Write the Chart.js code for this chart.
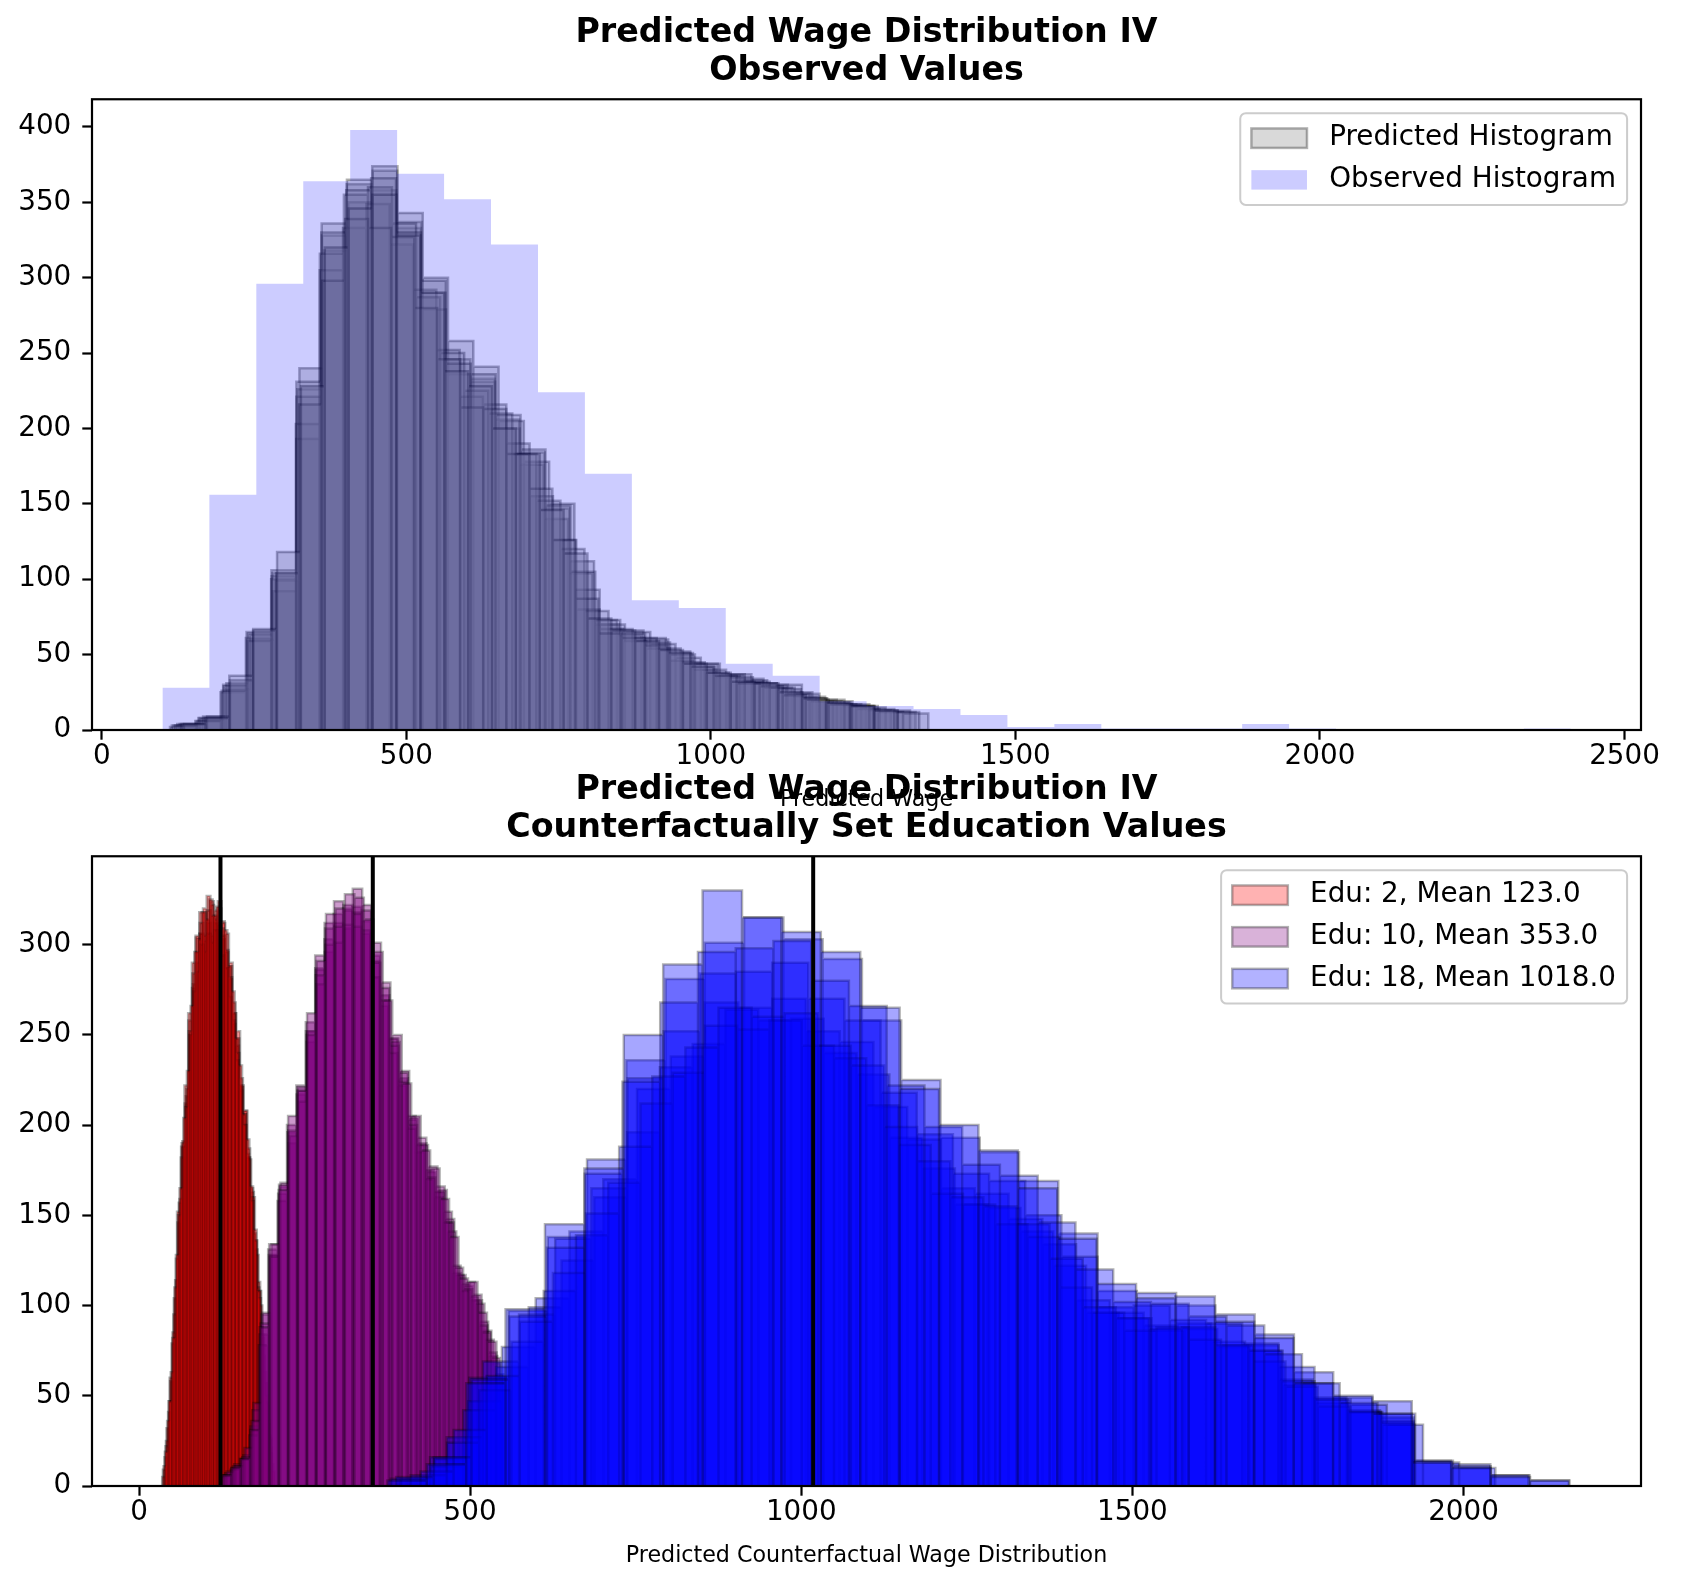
<!DOCTYPE html>
<html>
<head>
<meta charset="utf-8">
<script src="https://cdn.jsdelivr.net/npm/chart.js@4.4.1/dist/chart.umd.min.js"></script>
<style>
    html, body { margin: 0; padding: 0; background: #fff; }
    #figure { position: relative; width: 1685px; height: 1589px; }
    #figure canvas { position: absolute; left: 0; }
    #topChart { top: 0; }
    #bottomChart { top: 757px; }
</style>
</head>
<body>
<div id="figure">
    <canvas id="topChart" width="1685" height="830"></canvas>
    <canvas id="bottomChart" width="1685" height="832"></canvas>
</div>
<script>
// 坐标轴刻度
const topXTicks = [0, 500, 1000, 1500, 2000, 2500];
const topYTicks = [0, 50, 100, 150, 200, 250, 300, 350, 400];
const bottomXTicks = [0, 500, 1000, 1500, 2000];
const bottomYTicks = [0, 50, 100, 150, 200, 250, 300];

// 观测值直方图 (30 bins)
const observedStart = 99.6;
const observedWidth = 77.07;
const observedCounts = [28, 156, 296, 364, 398, 369, 352, 322, 224, 170, 86, 81, 44, 36, 19,
    16, 14, 10, 2, 4, 1, 1, 1, 4, 1, 0, 0, 0, 0, 1];

// 预测值直方图 (多次抽样叠加)
const predictedStarts = [118, 124, 112, 128, 121, 115, 135, 131];
const predictedWidths = [40.6, 40.1, 41.5, 38.3, 39.5, 40.9, 37.8, 39.2];
const predicted1 = [3, 8, 30, 64, 104, 226, 328, 362, 358, 333, 290, 246, 231, 200, 184, 147, 112, 70, 66, 60, 51, 44, 36, 33, 28, 22, 19, 16, 13, 12];
const predicted2 = [4, 7, 27, 60, 99, 240, 318, 350, 371, 337, 279, 236, 233, 206, 176, 140, 104, 73, 63, 61, 52, 42, 35, 34, 30, 25, 20, 17, 15, 13];
const predicted3 = [2, 6, 25, 61, 100, 221, 336, 365, 374, 343, 300, 258, 241, 205, 178, 150, 93, 70, 65, 57, 48, 40, 37, 31, 30, 21, 19, 16, 12, 11];
const predicted4 = [4, 9, 31, 63, 92, 193, 305, 333, 349, 322, 292, 252, 221, 216, 190, 155, 126, 80, 67, 59, 54, 46, 40, 36, 32, 28, 24, 19, 17, 14];
const predicted5 = [3, 8, 29, 59, 102, 203, 316, 355, 360, 336, 287, 250, 225, 210, 183, 152, 120, 79, 67, 61, 54, 45, 38, 35, 31, 27, 22, 18, 16, 13];
const predicted6 = [3, 6, 26, 65, 106, 231, 330, 358, 366, 330, 298, 243, 236, 209, 186, 149, 105, 73, 64, 58, 50, 44, 37, 32, 28, 24, 20, 17, 14, 12];
const predicted7 = [4, 9, 33, 66, 104, 216, 298, 339, 333, 327, 280, 246, 214, 213, 183, 160, 126, 87, 64, 61, 56, 51, 42, 36, 31, 29, 23, 20, 17, 16];
const predicted8 = [4, 8, 36, 67, 118, 228, 320, 346, 355, 328, 290, 238, 228, 200, 183, 146, 117, 74, 66, 59, 53, 44, 38, 32, 31, 25, 21, 18, 16, 13];

// 反事实教育水平
const eduLevels = [2, 10, 18];
const eduMeans = [123, 353, 1018];

const redStarts = [36.0, 38.5, 35.0, 40.0, 37.0, 39.0];
const redWidths = [5.50, 5.35, 5.60, 5.25, 5.45, 5.55];
const red1 = [9, 32, 58, 104, 146, 188, 212, 258, 276, 304, 306, 318, 314, 324, 316, 311, 313, 296, 288, 262, 248, 221, 208, 182, 163, 131, 108, 72, 44, 18];
const red2 = [16, 41, 79, 114, 157, 191, 216, 250, 278, 290, 306, 302, 312, 305, 312, 301, 303, 287, 281, 256, 244, 219, 206, 182, 165, 136, 113, 82, 57, 28];
const red3 = [5, 25, 60, 95, 152, 182, 222, 262, 290, 305, 318, 320, 327, 322, 319, 324, 312, 306, 290, 262, 252, 222, 208, 181, 160, 128, 100, 63, 34, 12];
const red4 = [22, 47, 85, 126, 159, 188, 220, 250, 274, 285, 300, 296, 306, 301, 308, 297, 294, 287, 271, 258, 236, 222, 200, 184, 160, 140, 110, 88, 57, 36];
const red5 = [11, 36, 63, 110, 150, 190, 210, 252, 284, 296, 312, 305, 319, 316, 314, 320, 305, 297, 282, 268, 240, 226, 200, 187, 158, 136, 104, 78, 46, 21];
const red6 = [19, 47, 82, 128, 165, 204, 230, 266, 296, 303, 318, 314, 325, 316, 321, 309, 308, 288, 274, 248, 233, 206, 192, 166, 142, 108, 84, 50, 26, 8];

const purpleStarts = [126, 130, 124, 132, 128, 125];
const purpleWidths = [14.0, 13.7, 14.2, 13.6, 13.9, 14.3];
const purple1 = [6, 10, 15, 33, 84, 128, 162, 196, 217, 252, 287, 303, 317, 320, 321, 313, 294, 272, 248, 226, 203, 190, 174, 163, 148, 117, 111, 103, 86, 68];
const purple2 = [7, 12, 17, 42, 95, 128, 166, 190, 219, 246, 286, 296, 312, 309, 318, 306, 291, 266, 248, 222, 205, 185, 175, 160, 152, 118, 112, 103, 91, 72];
const purple3 = [5, 9, 15, 28, 78, 131, 158, 200, 222, 257, 294, 312, 324, 319, 331, 322, 301, 279, 246, 230, 204, 189, 177, 164, 141, 117, 113, 101, 81, 62];
const purple4 = [8, 11, 21, 46, 96, 134, 168, 194, 213, 252, 278, 300, 301, 311, 310, 308, 282, 269, 240, 224, 198, 189, 170, 163, 146, 122, 108, 105, 89, 74];
const purple5 = [6, 11, 16, 36, 90, 127, 167, 197, 221, 250, 283, 309, 310, 322, 317, 319, 290, 276, 244, 229, 200, 193, 171, 166, 146, 121, 109, 106, 85, 71];
const purple6 = [6, 10, 15, 31, 88, 134, 164, 205, 219, 262, 291, 317, 320, 328, 326, 314, 296, 269, 250, 223, 205, 186, 176, 159, 138, 115, 113, 96, 80, 60];

const blueStarts = [380, 395, 440, 410, 465, 425, 388, 375];
const blueWidths = [59.3, 51.0, 49.5, 54.6, 48.7, 50.0, 57.0, 59.5];
const blue1 = [4, 16, 60, 97, 138, 181, 236, 281, 301, 315, 303, 292, 258, 225, 193, 185, 169, 140, 108, 107, 100, 95, 84, 63, 49, 47, 14, 12, 6, 3];
const blue2 = [4, 15, 47, 77, 104, 141, 170, 220, 238, 268, 265, 270, 252, 246, 210, 192, 165, 162, 148, 134, 103, 96, 89, 90, 80, 78, 59, 49, 42, 38];
const blue3 = [11, 42, 66, 99, 125, 160, 196, 232, 245, 264, 258, 259, 240, 228, 193, 176, 156, 154, 141, 122, 96, 93, 86, 87, 77, 75, 56, 46, 41, 36];
const blue4 = [6, 27, 69, 95, 137, 165, 226, 252, 284, 285, 290, 270, 258, 218, 195, 173, 169, 150, 127, 99, 100, 92, 90, 79, 66, 48, 45, 34, 13, 10];
const blue5 = [24, 53, 80, 108, 139, 168, 212, 229, 255, 253, 258, 244, 237, 211, 189, 162, 156, 145, 138, 110, 96, 86, 88, 81, 78, 69, 55, 44, 41, 34];
const blue6 = [8, 31, 61, 91, 118, 151, 188, 227, 243, 265, 260, 262, 244, 233, 199, 180, 160, 155, 145, 126, 99, 93, 87, 88, 78, 75, 58, 48, 41, 35];
const blue7 = [5, 16, 59, 94, 132, 173, 224, 268, 296, 298, 302, 280, 266, 222, 199, 178, 172, 146, 120, 102, 101, 94, 89, 73, 57, 46, 40, 14, 11, 6];
const blue8 = [3, 12, 57, 98, 145, 176, 250, 289, 330, 315, 307, 296, 265, 220, 200, 186, 165, 137, 112, 104, 105, 91, 82, 57, 50, 40, 13, 10, 5, 3];

// 坐标范围
const topXRange = [-16, 2527];
const topYMax = 418.4;
const bottomXRange = [-71, 2268];
const bottomYMax = 349;

const FONT = '"DejaVu Sans", sans-serif';
Chart.defaults.font.family = FONT;
Chart.defaults.color = '#000';

// 直方图转换为阶梯线的点
function histPoints(start, width, counts) {
    const pts = [];
    counts.forEach((c, i) => {
        const left = start + i * width;
        const right = left + width;
        pts.push({x: left, y: 0}, {x: left, y: c}, {x: right, y: c}, {x: right, y: 0});
    });
    return pts;
}

function histDataset(label, pts, fillColor, edgeColor, edgeWidth, order) {
    return {
        type: 'line',
        label: label,
        data: pts,
        backgroundColor: fillColor,
        borderColor: edgeColor,
        borderWidth: edgeWidth,
        borderJoinStyle: 'miter',
        fill: 'origin',
        pointRadius: 0,
        tension: 0,
        order: order
    };
}

// 坐标轴边框
const axesFrame = {
    id: 'axesFrame',
    afterDatasetsDraw(chart) {
        const {ctx, chartArea: a} = chart;
        ctx.save();
        ctx.strokeStyle = '#000';
        ctx.lineWidth = 2.2;
        ctx.strokeRect(a.left, a.top, a.right - a.left, a.bottom - a.top);
        ctx.restore();
    }
};

// matplotlib 风格图例
const boxLegend = {
    id: 'boxLegend',
    afterDraw(chart, args, opts) {
        const {ctx, chartArea: a} = chart;
        const fs = opts.fontSize;
        const items = opts.items;
        ctx.save();
        ctx.font = fs + 'px ' + FONT;
        const textW = Math.max(...items.map(it => ctx.measureText(it.text).width));
        const pad = 0.4 * fs, handleW = 2 * fs, handleH = 0.7 * fs, gap = 0.8 * fs;
        const boxW = 2 * pad + handleW + gap + textW;
        const boxH = 2 * pad + items.length * fs + (items.length - 1) * 0.5 * fs;
        const left = a.right - 0.5 * fs - boxW;
        const top = a.top + 0.5 * fs;

        ctx.beginPath();
        ctx.roundRect(left, top, boxW, boxH, 0.2 * fs);
        ctx.fillStyle = 'rgba(255,255,255,0.8)';
        ctx.fill();
        ctx.lineWidth = 2;
        ctx.strokeStyle = '#cccccc';
        ctx.stroke();

        items.forEach((it, i) => {
            const cy = top + pad + fs / 2 + i * 1.5 * fs;
            const hx = left + pad;
            ctx.fillStyle = it.fill;
            ctx.fillRect(hx, cy - handleH / 2, handleW, handleH);
            if (it.edge) {
                ctx.lineWidth = 2.5;
                ctx.strokeStyle = it.edge;
                ctx.strokeRect(hx, cy - handleH / 2, handleW, handleH);
            }
            ctx.fillStyle = '#000';
            ctx.textAlign = 'left';
            ctx.textBaseline = 'middle';
            ctx.fillText(it.text, hx + handleW + gap, cy);
        });
        ctx.restore();
    }
};

function tickGrid() {
    return {display: true, drawOnChartArea: false, drawTicks: true, tickLength: 9.7, tickWidth: 2.2, tickColor: '#000'};
}

function makeScales(xRange, yMax, xTicks, yTicks, xTitle, xAxisHeight, xTitlePad) {
    return {
        x: {
            type: 'linear',
            min: xRange[0],
            max: xRange[1],
            afterBuildTicks: s => { s.ticks = xTicks.map(v => ({value: v})); },
            afterFit: s => { s.height = xAxisHeight; },
            grid: tickGrid(),
            border: {display: false},
            ticks: {autoSkip: false, maxRotation: 0, padding: 0, color: '#000',
                font: {size: 27.8, lineHeight: 1.2}, callback: v => String(v)},
            title: {display: true, text: xTitle, color: '#000',
                font: {size: 22.2, lineHeight: 1.2}, padding: {top: 0, bottom: xTitlePad}}
        },
        y: {
            type: 'linear',
            min: 0,
            max: yMax,
            afterBuildTicks: s => { s.ticks = yTicks.map(v => ({value: v})); },
            afterFit: s => { s.width = 92; },
            grid: tickGrid(),
            border: {display: false},
            ticks: {autoSkip: false, padding: 11, color: '#000',
                font: {size: 27.8, lineHeight: 1.2}, callback: v => String(v)}
        }
    };
}

function makeOptions(titleLines, scales, legendItems) {
    return {
        responsive: false,
        animation: false,
        events: [],
        layout: {padding: {left: 0, right: 44, top: 0, bottom: 0}},
        scales: scales,
        plugins: {
            legend: {display: false},
            tooltip: {enabled: false},
            title: {
                display: true,
                text: titleLines,
                fullSize: false,
                color: '#000',
                font: {size: 33.3, weight: 'bold', lineHeight: 1.16},
                padding: {top: 13.7, bottom: 8.3}
            },
            boxLegend: {fontSize: 27.8, items: legendItems}
        }
    };
}

// 上图：观测值
function initTopChart() {
    const predicted = [predicted1, predicted2, predicted3, predicted4, predicted5, predicted6, predicted7, predicted8];
    const datasets = predicted.map((counts, i) =>
        histDataset('Predicted Histogram', histPoints(predictedStarts[i], predictedWidths[i], counts),
            'rgba(128,128,128,0.3)', 'rgba(0,0,0,0.3)', 2.5, 100 - i));
    datasets.push(histDataset('Observed Histogram', histPoints(observedStart, observedWidth, observedCounts),
        'rgba(0,0,255,0.2)', 'rgba(0,0,0,0)', 0, 10));

    new Chart(document.getElementById('topChart'), {
        type: 'line',
        data: {datasets: datasets},
        options: makeOptions(
            ['Predicted Wage Distribution IV', 'Observed Values'],
            makeScales(topXRange, topYMax, topXTicks, topYTicks, 'Predicted Wage', 100, 16.1),
            [
                {text: 'Predicted Histogram', fill: 'rgba(128,128,128,0.3)', edge: 'rgba(0,0,0,0.3)'},
                {text: 'Observed Histogram', fill: 'rgba(0,0,255,0.2)'}
            ]
        ),
        plugins: [axesFrame, boxLegend]
    });
}

// 下图：反事实教育水平
function initBottomChart() {
    const groups = [
        {counts: [red1, red2, red3, red4, red5, red6], starts: redStarts, widths: redWidths, fill: 'rgba(255,0,0,0.4)', order: 300},
        {counts: [purple1, purple2, purple3, purple4, purple5, purple6], starts: purpleStarts, widths: purpleWidths, fill: 'rgba(128,0,128,0.4)', order: 200},
        {counts: [blue1, blue2, blue3, blue4, blue5, blue6, blue7, blue8], starts: blueStarts, widths: blueWidths, fill: 'rgba(0,0,255,0.35)', order: 100}
    ];
    const datasets = [];
    groups.forEach((g, gi) => {
        g.counts.forEach((counts, i) => {
            datasets.push(histDataset('Edu ' + eduLevels[gi], histPoints(g.starts[i], g.widths[i], counts),
                g.fill, 'rgba(0,0,0,0.3)', 2.5, g.order - i));
        });
    });
    // 均值竖线
    eduMeans.forEach(m => {
        datasets.push({
            type: 'line',
            data: [{x: m, y: 0}, {x: m, y: bottomYMax}],
            borderColor: '#000',
            borderWidth: 4,
            pointRadius: 0,
            fill: false,
            order: 0
        });
    });

    const legendFills = ['rgba(255,0,0,0.3)', 'rgba(128,0,128,0.3)', 'rgba(0,0,255,0.3)'];
    const legendItems = eduLevels.map((e, i) => ({
        text: `Edu: ${e}, Mean ${eduMeans[i].toFixed(1)}`,
        fill: legendFills[i],
        edge: 'rgba(0,0,0,0.3)'
    }));

    new Chart(document.getElementById('bottomChart'), {
        type: 'line',
        data: {datasets: datasets},
        options: makeOptions(
            ['Predicted Wage Distribution IV', 'Counterfactually Set Education Values'],
            makeScales(bottomXRange, bottomYMax, bottomXTicks, bottomYTicks,
                'Predicted Counterfactual Wage Distribution', 103, 19.7),
            legendItems
        ),
        plugins: [axesFrame, boxLegend]
    });
}

document.addEventListener('DOMContentLoaded', function() {
    initTopChart();
    initBottomChart();
});
</script>
</body>
</html>
